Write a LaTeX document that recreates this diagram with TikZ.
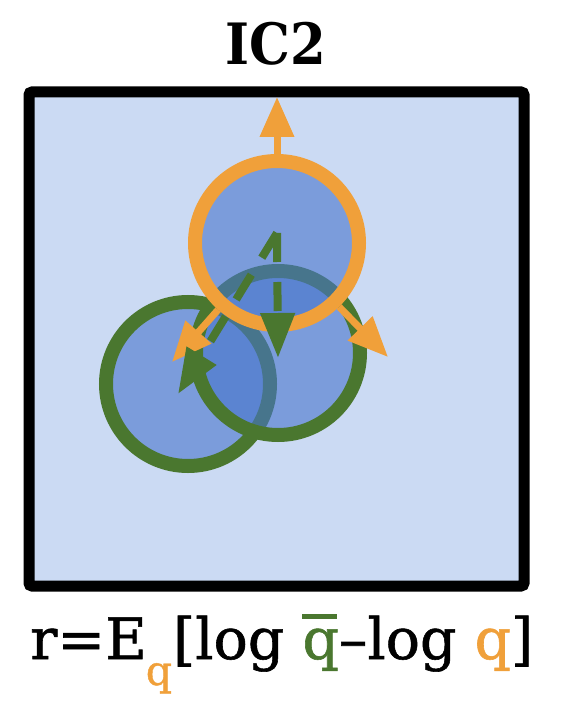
\documentclass[tikz,border=0pt]{standalone}
\usepackage{fontspec}
\setmainfont{DejaVu Serif}
\newfontfamily\titlefont[FakeStretch=0.9]{DejaVu Serif}
\newfontfamily\formulafont[FakeBold=1]{DejaVu Serif}
\usetikzlibrary{arrows.meta}
\definecolor{bgblue}{RGB}{203,218,243}
\definecolor{fillblue}{RGB}{70,116,203}
\definecolor{qorange}{RGB}{240,160,58}
\definecolor{qgreen}{RGB}{74,119,47}
\tikzset{
  panel/.style={draw=black, line width=11pt, fill=bgblue, rounded corners=3pt},
  dist/.style={circle, minimum size=164pt, inner sep=0pt, line width=14pt, fill=fillblue, fill opacity=0.6, draw opacity=1},
  qdist/.style={dist, draw=qorange},
  pdist/.style={dist, draw=qgreen},
  oarrow/.style={draw=qorange, line width=7pt, -{Triangle[length=40pt,width=33pt]}},
  garrow/.style={draw=qgreen, line width=8pt, dash pattern=on 29pt off 20pt, -{Triangle[length=45pt,width=33pt]}},
}
\newcommand{\qbar}{\leavevmode\rlap{\raisebox{0.7em}{\rule{0.6em}{0.09em}}}q}
\begin{document}
\begin{tikzpicture}[x=1pt,y=-1pt]
\useasboundingbox (0,0) rectangle (568,708);
\fill[white] (0,0) rectangle (568,708);
\node[font=\fontsize{57}{57}\selectfont\titlefont\bfseries, anchor=base, inner sep=0pt] (title) at (276,65) {IC2};
\path[panel] (29,92) rectangle (524,586);
\node[pdist] (p1) at (188,384) {};
\node[pdist] (p2) at (278,353) {};
\node[qdist] (q) at (277,243) {};
\coordinate (up) at (277,97);
\coordinate (dr) at (388,357);
\coordinate (dl) at (172,362);
\draw[oarrow] (q) -- (up);
\draw[oarrow] (q) -- (dr);
\draw[oarrow] (q) -- (dl);
\coordinate (src) at (277,233);
\coordinate (t2) at (278,358);
\coordinate (t1) at (178,394);
\draw[garrow] (src) -- (t2);
\draw[garrow] (src) -- (t1);
\node[font=\fontsize{57}{57}\selectfont\formulafont, anchor=base west, inner sep=0pt] (formula) at (30,659)
  {r=E\kern-1pt\raisebox{-26pt}{\fontsize{41}{41}\selectfont\color{qorange}q}\kern1pt[log \textcolor{qgreen}{\qbar}–log \textcolor{qorange}{q}]};
\end{tikzpicture}
\end{document}
